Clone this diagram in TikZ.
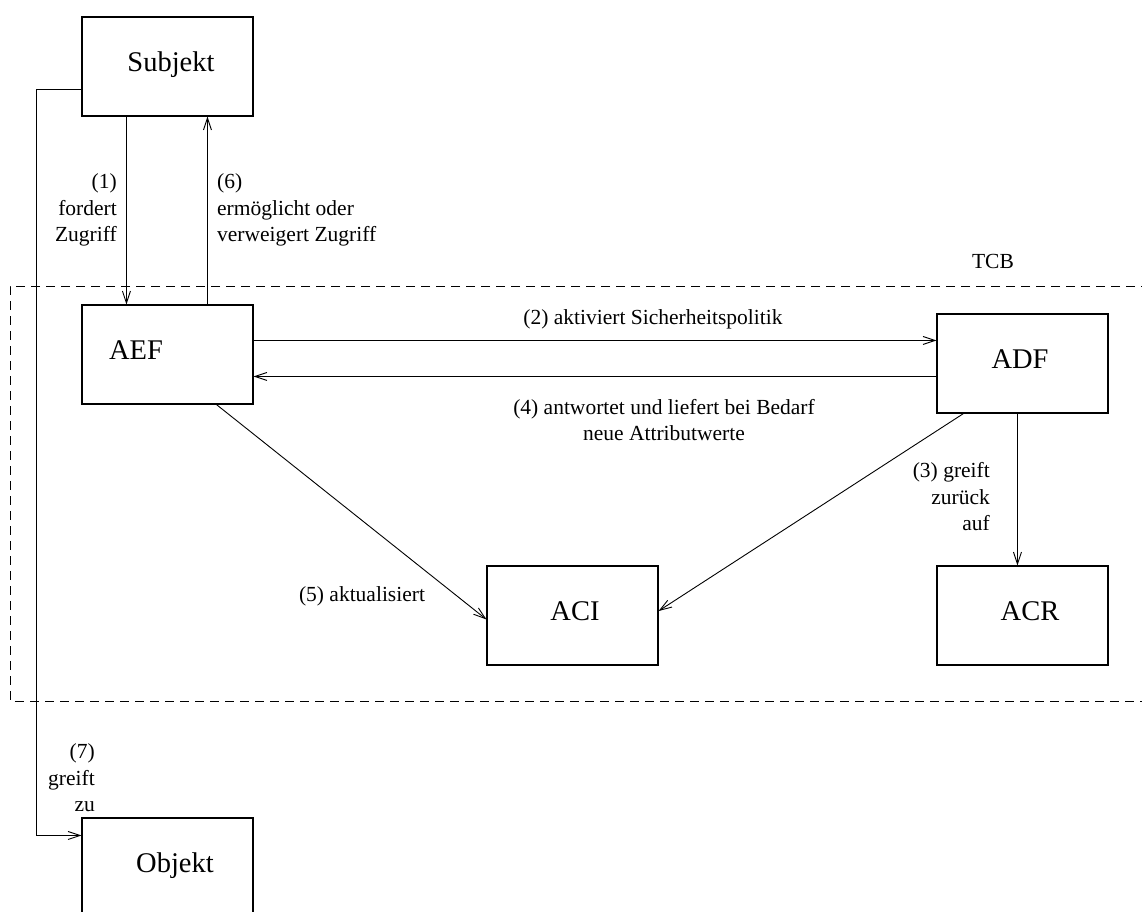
\documentclass[tikz,border=0pt]{standalone}
\usepackage{fontspec}
\setmainfont{Liberation Serif}
\usetikzlibrary{arrows.meta,calc}
\begin{document}
\begin{tikzpicture}[x=1pt,y=-1pt,
  box/.style={draw,line width=1.1pt,minimum width=171pt,minimum height=99pt,inner sep=0pt},
  boxtext/.style={font=\fontsize{28.5}{34}\selectfont,inner sep=0pt,anchor=base},
  lbl/.style={font=\fontsize{21.5}{26.5}\selectfont,inner sep=0pt},
  conn/.style={line width=0.9pt,-{Straight Barb[length=12pt,width=8pt]}},
  tcbline/.style={line width=0.9pt,dash pattern=on 9pt off 6pt}]
\useasboundingbox (0,0) rectangle (1142,911);

% trusted computing base
\draw[tcbline] (1150,286) -- (10,286) -- (10,701) -- (1150,701);
\node[lbl,anchor=base] (tcb) at (993,268) {TCB};

% components
\node[box] (subj) at (167.5,66.5) {};
\node[box] (aef)  at (167.5,354.5) {};
\node[box] (adf)  at (1022.5,363.5) {};
\node[box] (aci)  at (572.5,615.5) {};
\node[box] (acr)  at (1022.5,615.5) {};
\node[box] (obj)  at (167.5,867.5) {};

\node[boxtext] (tsubj) at (171,71)  {Subjekt};
\node[boxtext] (taef)  at (136,359) {AEF};
\node[boxtext] (tadf)  at (1020,368) {ADF};
\node[boxtext] (taci)  at (575,620) {ACI};
\node[boxtext] (tacr)  at (1030,620) {ACR};
\node[boxtext] (tobj)  at (175,872) {Objekt};

% (1) request and (6) decision
\draw[conn] ([xshift=45pt]subj.south west) -- ([xshift=45pt]aef.north west);
\draw[conn] ([xshift=126pt]aef.north west) -- ([xshift=126pt]subj.south west);
\node[lbl,align=right,anchor=east] (l1) at (117,210) {(1)\\fordert\\Zugriff};
\node[lbl,align=left,anchor=west] (l6) at (217,210) {(6)\\ermöglicht oder\\verweigert Zugriff};

% (2) and (4) between AEF and ADF
\draw[conn] ([yshift=-36pt]aef.north east) -- ([yshift=-36pt]aef.north east -| adf.west);
\draw[conn] ([yshift=-63pt]adf.north west) -- ([yshift=-63pt]adf.north west -| aef.east);
\node[lbl,anchor=base] (l2) at (653,324) {(2) aktiviert Sicherheitspolitik};
\node[lbl,align=center,anchor=center] (l4) at (664,420) {(4) antwortet und liefert bei Bedarf\\neue Attributwerte};

% (3) ADF to ACR
\draw[conn] ([xshift=81pt]adf.south west) -- ([xshift=81pt]adf.south west |- acr.north);
\node[lbl,align=right,anchor=east] (l3) at (990,497) {(3) greift\\zurück\\auf};

% (5) updates to ACI
\draw[conn] ([xshift=135pt]aef.south west) -- ([yshift=-54pt]aci.north west);
\draw[conn] ([xshift=27pt]adf.south west) -- ([yshift=4.5pt]aci.east);
\node[lbl,anchor=base] (l5) at (362,601) {(5) aktualisiert};

% (7) subject accesses object
\draw[conn] ([yshift=27pt]subj.south west) -- ++(-45,0) |- ([yshift=-18pt]obj.north west);
\node[lbl,align=right,anchor=east] (l7) at (95,778) {(7)\\greift\\zu};
\end{tikzpicture}
\end{document}
